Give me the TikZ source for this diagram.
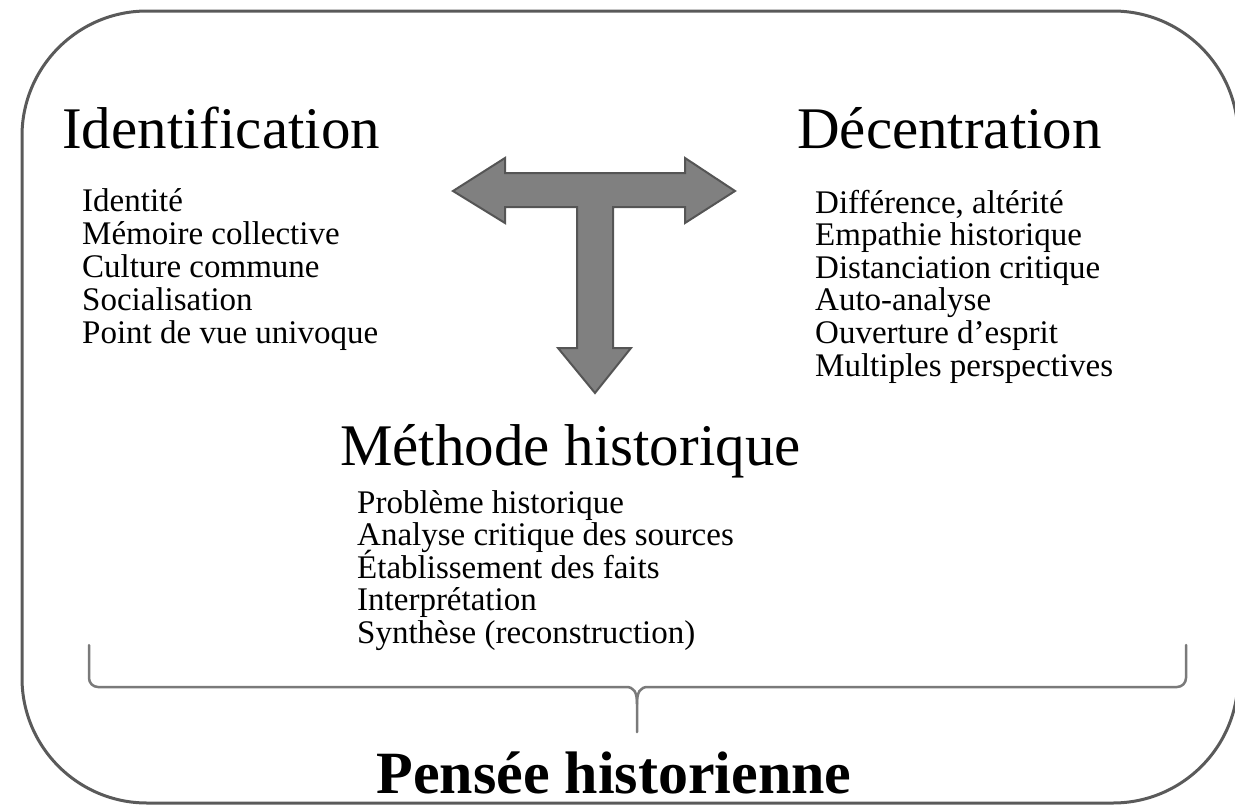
\documentclass[tikz,border=0pt]{standalone}
\usepackage{fontspec}
\setmainfont{Liberation Serif}
\definecolor{framecol}{HTML}{5A5A5A}
\definecolor{bracecol}{HTML}{7A7A7A}
\definecolor{arrowfill}{HTML}{808080}
\definecolor{arrowdraw}{HTML}{555555}
\begin{document}
\begin{tikzpicture}[x=1pt,y=-1pt,
  title/.style={anchor=base west,inner sep=0pt,font=\fontsize{59}{59}\selectfont},
  item/.style={anchor=base west,inner sep=0pt,font=\fontsize{33}{33}\selectfont},
  concl/.style={anchor=base,inner sep=0pt,font=\fontsize{60}{60}\selectfont\bfseries}]
\useasboundingbox (0,0) rectangle (1235,806);
% frame
\draw[framecol,line width=3pt,rounded corners=125pt] (22,11) rectangle (1238,803);
% titles
\node[title] (ident) at (62,148) {Identification};
\node[title] (decen) at (797,148) {Décentration};
\node[title] (meth) at (340,465) {Méthode historique};
% left list
\node[item] (l1) at (82,211) {Identité};
\node[item] (l2) at (82,244) {Mémoire collective};
\node[item] (l3) at (82,277) {Culture commune};
\node[item] (l4) at (82,310) {Socialisation};
\node[item] (l5) at (82,343) {Point de vue univoque};
% right list
\node[item] (r1) at (815,213) {Différence, altérité};
\node[item] (r2) at (815,245.6) {Empathie historique};
\node[item] (r3) at (815,278.2) {Distanciation critique};
\node[item] (r4) at (815,310.8) {Auto-analyse};
\node[item] (r5) at (815,343.4) {Ouverture d’esprit};
\node[item] (r6) at (815,376) {Multiples perspectives};
% method list
\node[item] (m1) at (357,513) {Problème historique};
\node[item] (m2) at (357,545.5) {Analyse critique des sources};
\node[item] (m3) at (357,578) {Établissement des faits};
\node[item] (m4) at (357,610.5) {Interprétation};
\node[item] (m5) at (357,643) {Synthèse (reconstruction)};
% T arrow
\draw[fill=arrowfill,draw=arrowdraw,line width=2pt,line join=miter]
  (453,191) -- (505,158) -- (505,173) -- (685,173) -- (685,158) -- (735,191)
  -- (685,223) -- (685,207) -- (613,207) -- (613,348) -- (631,348) -- (595,393)
  -- (558,348) -- (577,348) -- (577,207) -- (505,207) -- (505,223) -- cycle;
% brace
\coordinate (btip) at (637,732);
\draw[bracecol,line width=2.5pt,line cap=round]
  (89,645) [rounded corners=9pt] -- (89,687) [rounded corners=0pt] -- (626,687)
  .. controls (634,687) and (637,692) .. (637,704) -- (btip);
\draw[bracecol,line width=2.5pt,line cap=round]
  (1186,645) [rounded corners=9pt] -- (1186,687) [rounded corners=0pt] -- (648,687)
  .. controls (640,687) and (637,692) .. (637,704);
% conclusion
\node[concl] (pensee) at (614,793) {Pensée historienne};
\end{tikzpicture}
\end{document}
